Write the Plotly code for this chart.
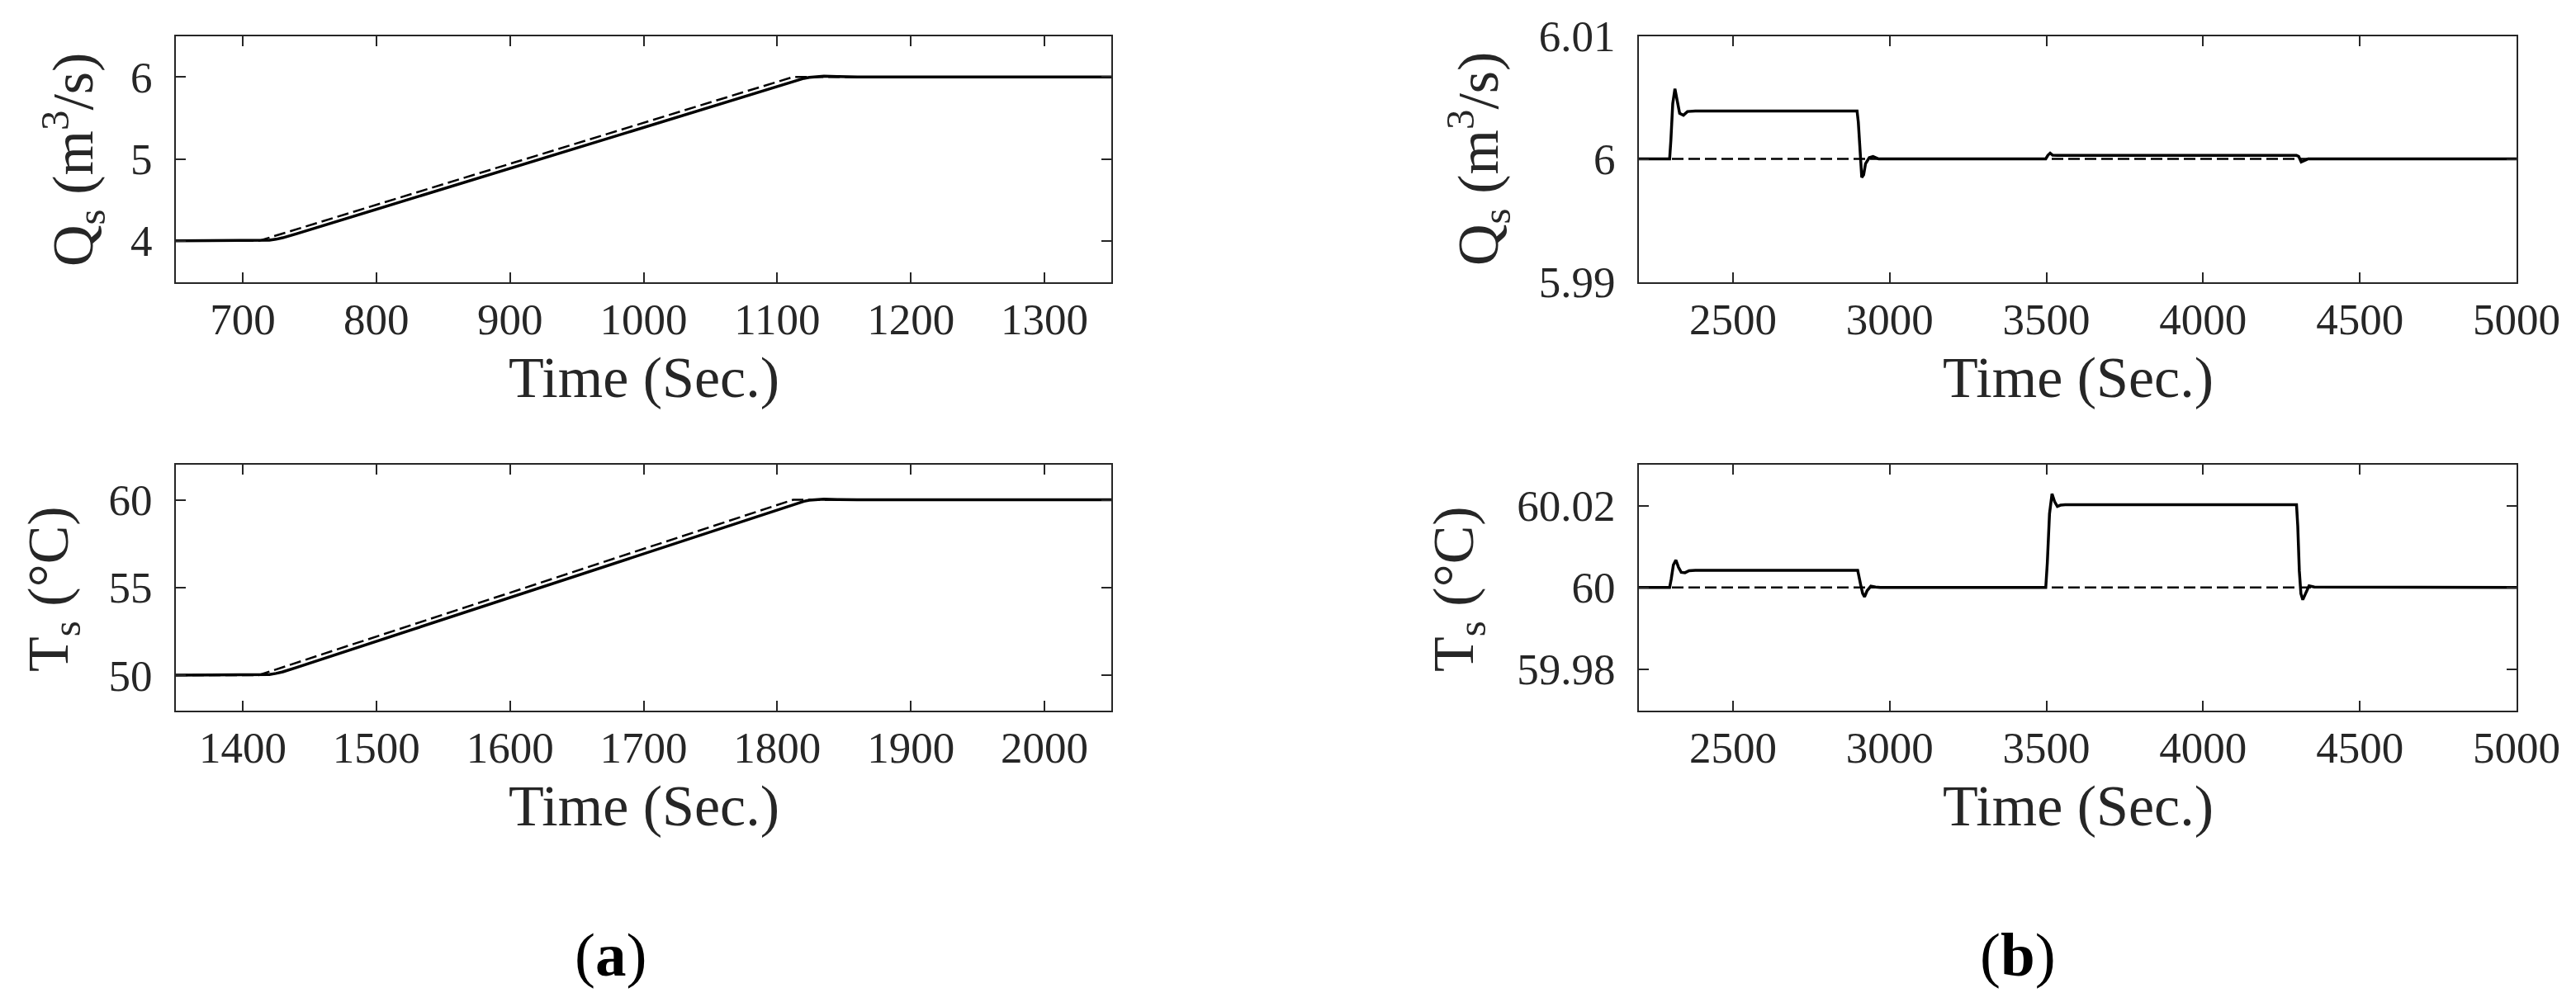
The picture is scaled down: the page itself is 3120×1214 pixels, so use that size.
import plotly.graph_objects as go

# ---------------- data ----------------
# (a) top: flow rate Q_s
qa_ref_t = [650, 712, 1112, 1350]
qa_ref_v = [4.0, 4.0, 6.0, 6.0]
qa_act_t = [650, 712, 716, 720, 725, 730, 740, 1110, 1115, 1120, 1124, 1128, 1135, 1145, 1160, 1350]
qa_act_v = [4.0, 4.0, 4.002, 4.008, 4.02, 4.038, 4.085, 5.935, 5.96, 5.982, 5.995, 6.003, 6.008, 6.004, 6.0, 6.0]

# (a) bottom: temperature T_s
ta_ref_t = [1350, 1412, 1812, 2050]
ta_ref_v = [50.0, 50.0, 60.0, 60.0]
ta_act_t = [1350, 1412, 1416, 1420, 1425, 1430, 1440, 1810, 1815, 1820, 1824, 1828, 1835, 1845, 1860, 2050]
ta_act_v = [50.0, 50.0, 50.01, 50.04, 50.1, 50.19, 50.43, 59.675, 59.8, 59.91, 59.975, 60.01, 60.03, 60.015, 60.0, 60.0]

# (b) top: flow rate Q_s
qb_ref_t = [2200, 5000]
qb_ref_v = [6.0, 6.0]
qb_act_t = [2200, 2298, 2302, 2308, 2315, 2322, 2330, 2342, 2355, 2380, 2896, 2900, 2905, 2911, 2917,
            2923, 2935, 2947, 2965, 3498, 3505, 3512, 3520, 3535, 4298, 4305, 4313, 4322, 4335, 5000]
qb_act_v = [6.0, 6.0, 6.0015, 6.0045, 6.0057, 6.0048, 6.0037, 6.00355, 6.00385, 6.0039, 6.0039, 6.0030,
            6.0005, 5.9985, 5.9987, 5.9996, 6.0001, 6.0002, 6.0, 6.0, 6.0003, 6.00047, 6.0003, 6.00028,
            6.00028, 6.0002, 5.99975, 5.99985, 6.0, 6.0]

# (b) bottom: temperature T_s
tb_ref_t = [2200, 5000]
tb_ref_v = [60.0, 60.0]
tb_act_t = [2200, 2298, 2303, 2310, 2318, 2326, 2335, 2347, 2360, 2380, 2898, 2902, 2908, 2914, 2920,
            2928, 2940, 2955, 2970, 3498, 3503, 3510, 3518, 3526, 3535, 3545, 3560, 4298, 4302, 4307,
            4312, 4318, 4326, 4338, 4355, 5000]
tb_act_v = [60.0, 60.0, 60.002, 60.0055, 60.0067, 60.005, 60.0037, 60.0036, 60.0041, 60.0042, 60.0042,
            60.003, 60.0005, 59.9985, 59.9977, 59.9992, 60.0003, 60.0001, 60.0, 60.0, 60.006, 60.018,
            60.0229, 60.021, 60.0198, 60.0201, 60.0202, 60.0202, 60.015, 60.004, 59.9985, 59.997,
            59.9985, 60.0004, 60.0001, 60.0]

# tick labels
qa_yticks = [4, 5, 6]
ta_yticks = [50, 55, 60]
qb_yticks = [5.99, 6.0, 6.01]
qb_yticklabels = ["5.99", "6", "6.01"]
tb_yticks = [59.98, 60.0, 60.02]
tb_yticklabels = ["59.98", "60", "60.02"]

x_title = "Time (Sec.)"
q_title = "Q<sub>s</sub> (m<sup>3</sup>/s)"
t_title = "T<sub>s</sub> (°C)"

# ---------------- figure ----------------
OFF = 8                      # default page body margin
W, H = 3120 - OFF, 1214 - OFF
FONT = "Liberation Serif"
AX = "#262626"


def px(x):
    return (x - OFF) / W


def py(y):
    return 1 - (y - OFF) / H


fig = go.Figure()

panels = [
    ("x", "y", qa_ref_t, qa_ref_v, qa_act_t, qa_act_v),
    ("x2", "y2", ta_ref_t, ta_ref_v, ta_act_t, ta_act_v),
    ("x3", "y3", qb_ref_t, qb_ref_v, qb_act_t, qb_act_v),
    ("x4", "y4", tb_ref_t, tb_ref_v, tb_act_t, tb_act_v),
]
for xa, ya, rt, rv, at, av in panels:
    fig.add_trace(go.Scatter(x=at, y=av, xaxis=xa, yaxis=ya, mode="lines",
                             line=dict(color="black", width=3.5), showlegend=False))
    fig.add_trace(go.Scatter(x=rt, y=rv, xaxis=xa, yaxis=ya, mode="lines",
                             line=dict(color="black", width=2.5, dash="14px,6px"), showlegend=False))

xL = [px(213), px(1346)]
xR = [px(1985), px(3048)]
yT = [py(341.5), py(43.5)]
yB = [py(860.5), py(563)]

common = dict(showline=True, linecolor=AX, linewidth=2, mirror="ticks", ticks="inside",
              ticklen=12, tickwidth=2, tickcolor=AX, showgrid=False, zeroline=False,
              automargin=False, tickfont=dict(family=FONT, size=53, color=AX))

XSO = -2
YSO = 16
fig.update_layout(
    template="none",
    width=W, height=H, margin=dict(l=0, r=0, t=0, b=0, pad=0), autosize=False,
    paper_bgcolor="white", plot_bgcolor="white",
    xaxis=dict(domain=xL, anchor="y", range=[650, 1350], tickmode="linear", tick0=700, dtick=100,
               ticklabelstandoff=XSO, **common),
    yaxis=dict(domain=yT, anchor="x", range=[3.5, 6.5], tickvals=qa_yticks,
               ticklabelstandoff=YSO, **common),
    xaxis2=dict(domain=xL, anchor="y2", range=[1350, 2050], tickmode="linear", tick0=1400, dtick=100,
                ticklabelstandoff=XSO, **common),
    yaxis2=dict(domain=yB, anchor="x2", range=[48, 62], tickvals=ta_yticks,
                ticklabelstandoff=YSO, **common),
    xaxis3=dict(domain=xR, anchor="y3", range=[2200, 5000], tickmode="linear", tick0=2500, dtick=500,
                ticklabelstandoff=XSO, **common),
    yaxis3=dict(domain=yT, anchor="x3", range=[5.99, 6.01], tickvals=qb_yticks,
                ticktext=qb_yticklabels, ticklabelstandoff=YSO, **common),
    xaxis4=dict(domain=xR, anchor="y4", range=[2200, 5000], tickmode="linear", tick0=2500, dtick=500,
                ticklabelstandoff=XSO, **common),
    yaxis4=dict(domain=yB, anchor="x4", range=[59.97, 60.03], tickvals=tb_yticks,
                ticktext=tb_yticklabels, ticklabelstandoff=YSO, **common),
)

tfont = dict(family=FONT, size=70, color=AX)
ann = []
for xc in [(xL[0] + xL[1]) / 2, (xR[0] + xR[1]) / 2]:
    for yc in [py(457), py(977)]:
        ann.append(dict(text=x_title, x=xc, y=yc, font=tfont))
ann.append(dict(text=q_title, x=px(89), y=py(194), textangle=-90, font=tfont))
ann.append(dict(text=t_title, x=px(63.5), y=py(713.5), textangle=-90, font=tfont))
ann.append(dict(text=q_title, x=px(1790), y=py(193), textangle=-90, font=tfont))
ann.append(dict(text=t_title, x=px(1765.5), y=py(713.5), textangle=-90, font=tfont))
ann.append(dict(text="(<b>a</b>)", x=px(739), y=py(1156), font=dict(family=FONT, size=75, color="black")))
ann.append(dict(text="(<b>b</b>)", x=px(2444), y=py(1156), font=dict(family=FONT, size=75, color="black")))
for a in ann:
    a.update(xref="paper", yref="paper", xanchor="center", yanchor="middle", showarrow=False)
fig.update_layout(annotations=ann)

fig.write_html("out.html")
